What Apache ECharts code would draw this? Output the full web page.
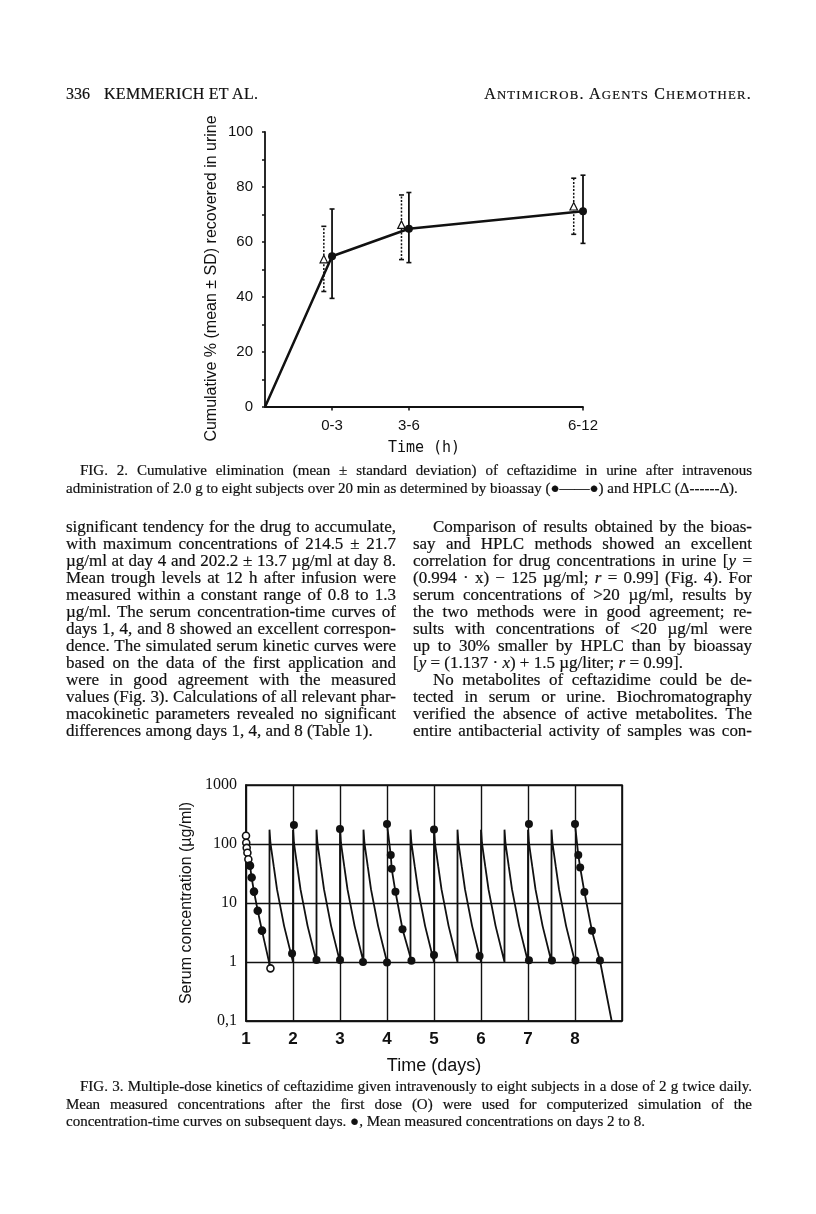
<!DOCTYPE html>
<html>
<head>
<meta charset="utf-8">
<script src="https://cdn.jsdelivr.net/npm/echarts@6/dist/echarts.min.js"></script>
<style>
html,body{margin:0;padding:0;background:#fff;}
#page{position:relative;width:816px;height:1214px;overflow:hidden;background:#fff;}
#chart{position:absolute;left:0;top:0;width:816px;height:1214px;}
.t{position:absolute;font-family:'Liberation Serif','Times New Roman',serif;color:#111;-webkit-text-stroke:0.2px #111;}
.col{font-size:17px;line-height:17px;}
.ln{height:17px;white-space:normal;}
.j{text-align:justify;text-align-last:justify;}
.l{text-align:left;}
.ind{padding-left:20px;}
.cap{font-size:15px;line-height:17.5px;}
.cap .ln{height:17.5px;}
.hdr{font-size:16px;white-space:nowrap;top:85px;}
.sc{font-size:12.8px;}
i{font-style:italic;}
</style>
</head>
<body>
<div id="page">
  <div id="chart"></div>

  <div class="t hdr" style="left:66px;">336</div>
  <div class="t hdr" style="left:104px;letter-spacing:0.3px;">KEMMERICH ET AL.</div>
  <div class="t hdr" style="right:64px;letter-spacing:1.2px;">A<span class="sc">NTIMICROB</span>. A<span class="sc">GENTS</span> C<span class="sc">HEMOTHER</span>.</div>

  <div class="t cap" style="left:66px;top:462px;width:686px;">
    <div class="ln j" style="padding-left:14px;">FIG. 2. Cumulative elimination (mean ± standard deviation) of ceftazidime in urine after intravenous</div>
    <div class="ln l">administration of 2.0 g to eight subjects over 20 min as determined by bioassay (●——●) and HPLC (Δ------Δ).</div>
  </div>

  <div class="t col" style="left:66px;top:518px;width:330px;">
    <div class="ln j">significant tendency for the drug to accumulate,</div>
    <div class="ln j">with maximum concentrations of 214.5 ± 21.7</div>
    <div class="ln j">µg/ml at day 4 and 202.2 ± 13.7 µg/ml at day 8.</div>
    <div class="ln j">Mean trough levels at 12 h after infusion were</div>
    <div class="ln j">measured within a constant range of 0.8 to 1.3</div>
    <div class="ln j">µg/ml. The serum concentration-time curves of</div>
    <div class="ln j">days 1, 4, and 8 showed an excellent correspon-</div>
    <div class="ln j">dence. The simulated serum kinetic curves were</div>
    <div class="ln j">based on the data of the first application and</div>
    <div class="ln j">were in good agreement with the measured</div>
    <div class="ln j">values (Fig. 3). Calculations of all relevant phar-</div>
    <div class="ln j">macokinetic parameters revealed no significant</div>
    <div class="ln l">differences among days 1, 4, and 8 (Table 1).</div>
  </div>

  <div class="t col" style="left:413px;top:518px;width:339px;">
    <div class="ln j ind">Comparison of results obtained by the bioas-</div>
    <div class="ln j">say and HPLC methods showed an excellent</div>
    <div class="ln j">correlation for drug concentrations in urine [<i>y</i> =</div>
    <div class="ln j">(0.994 · x) − 125 µg/ml; <i>r</i> = 0.99] (Fig. 4). For</div>
    <div class="ln j">serum concentrations of &gt;20 µg/ml, results by</div>
    <div class="ln j">the two methods were in good agreement; re-</div>
    <div class="ln j">sults with concentrations of &lt;20 µg/ml were</div>
    <div class="ln j">up to 30% smaller by HPLC than by bioassay</div>
    <div class="ln l">[<i>y</i> = (1.137 · <i>x</i>) + 1.5 µg/liter; <i>r</i> = 0.99].</div>
    <div class="ln j ind">No metabolites of ceftazidime could be de-</div>
    <div class="ln j">tected in serum or urine. Biochromatography</div>
    <div class="ln j">verified the absence of active metabolites. The</div>
    <div class="ln j">entire antibacterial activity of samples was con-</div>
  </div>

  <div class="t cap" style="left:66px;top:1078px;width:686px;">
    <div class="ln j" style="padding-left:14px;">FIG. 3. Multiple-dose kinetics of ceftazidime given intravenously to eight subjects in a dose of 2 g twice daily.</div>
    <div class="ln j">Mean measured concentrations after the first dose (O) were used for computerized simulation of the</div>
    <div class="ln l">concentration-time curves on subsequent days. ●, Mean measured concentrations on days 2 to 8.</div>
  </div>
</div>

<script>
// fit each printed line into its column (compress letter spacing only if it is too long)
document.querySelectorAll('.ln').forEach(el => {
  const span = document.createElement('span');
  while (el.firstChild) span.appendChild(el.firstChild);
  el.appendChild(span);
  span.style.whiteSpace = 'nowrap';
  const cs = getComputedStyle(el);
  const avail = el.clientWidth - parseFloat(cs.paddingLeft) - parseFloat(cs.paddingRight);
  const w = span.getBoundingClientRect().width;
  if (w > avail - 0.5) {
    const n = span.textContent.length;
    span.style.letterSpacing = ((avail - 1 - w) / n) + 'px';
  }
  span.style.whiteSpace = 'normal';
});
</script>

<script>
// ---------- FIG. 2 data: cumulative % recovered in urine ----------
const urinePeriods = ['0-3', '3-6', '6-12'];
const urinePeriodX = [2.53, 5.43, 12];          // where each period sits on the drawn time axis
const urineYTicks = [0, 20, 40, 60, 80, 100];
const bioMean = [54.8, 64.8, 71.2];
const bioLow  = [39.5, 52.5, 59.5];
const bioHigh = [72, 78, 84.3];
const hplcX    = [2.22, 5.15, 11.65];
const hplcMean = [53.8, 66.3, 73.0];
const hplcLow  = [42.0, 53.6, 62.8];
const hplcHigh = [65.7, 77.1, 83.2];

// ---------- FIG. 3 data: serum concentration (µg/ml) vs days ----------
const dayTicks = [1, 2, 3, 4, 5, 6, 7, 8];
const concTicks = [0.1, 1, 10, 100, 1000];
const day1Time = [1.0, 1.005, 1.015, 1.03, 1.05, 1.085, 1.12, 1.17, 1.25, 1.34, 1.52];
const day1Conc = [138, 105, 86, 71, 55, 43, 27, 15.6, 7.4, 3.4, 0.78];
const day4Time = [4.0, 4.08, 4.1, 4.18, 4.33, 4.52];
const day4Conc = [218, 65, 38, 15.5, 3.6, 1.05];
const day8Time = [8.0, 8.07, 8.11, 8.2, 8.36, 8.53, 8.78];
const day8Conc = [218, 65, 40, 15.3, 3.4, 1.06, 0.1];
const measTime = [1.98, 2.02, 2.5, 3.0, 3.0, 3.49, 4.0, 5.0, 5.0, 5.97, 7.02, 7.02, 7.51, 8.01];
const measConc = [1.4, 210, 1.08, 180, 1.08, 1.0, 0.98, 176, 1.32, 1.27, 218, 1.07, 1.06, 1.06];
// simulated dosing curve: dose times and one read-off dosing-interval shape
const simDoseTimes = [1.5, 2.0, 2.5, 3.0, 3.5, 4.5, 5.0, 5.5, 6.0, 6.5, 7.0, 7.5];
const simTrough0 = 0.8;
const simOffset = [0, 0.02, 0.09, 0.16, 0.31, 0.5];
const simConc   = [175, 104, 42, 17, 4.1, 1.0];

// ---------- build ----------
const sans = "'Liberation Sans',Arial,sans-serif";
const serif = "'Liberation Serif','Times New Roman',serif";
const INK = '#111';

const simData = [];
let lastEnd = null;
simDoseTimes.forEach(t0 => {
  if (lastEnd === null) simData.push([t0, simTrough0]);
  else if (Math.abs(lastEnd - t0) > 1e-6) { simData.push([t0, '-']); simData.push([t0, simConc[simConc.length - 1]]); }
  simOffset.forEach((o, k) => simData.push([+(t0 + o).toFixed(3), simConc[k]]));
  lastEnd = t0 + simOffset[simOffset.length - 1];
});

function zip(a, b) { return a.map((v, i) => [v, b[i]]); }

function errBars(xs, lows, highs, dashed) {
  return {
    type: 'custom', xAxisIndex: 0, yAxisIndex: 0, z: 2, silent: true,
    encode: { x: 0, y: [1, 2] },
    data: xs.map((x, i) => [x, lows[i], highs[i]]),
    renderItem: (params, api) => {
      const x = api.value(0), lo = api.value(1), hi = api.value(2);
      const p1 = api.coord([x, lo]), p2 = api.coord([x, hi]);
      const cap = 2.5;
      const st = { stroke: INK, lineWidth: dashed ? 1.5 : 1.8, lineDash: dashed ? [2, 1.6] : null, fill: null };
      const cs = { stroke: INK, lineWidth: 1.6, fill: null };
      return { type: 'group', children: [
        { type: 'line', shape: { x1: p1[0], y1: p1[1], x2: p2[0], y2: p2[1] }, style: st },
        { type: 'line', shape: { x1: p1[0] - cap, y1: p1[1], x2: p1[0] + cap, y2: p1[1] }, style: cs },
        { type: 'line', shape: { x1: p2[0] - cap, y1: p2[1], x2: p2[0] + cap, y2: p2[1] }, style: cs }
      ]};
    }
  };
}

function periodLabel(v) {
  for (let i = 0; i < urinePeriodX.length; i++) if (Math.abs(urinePeriodX[i] - v) < 0.01) return urinePeriods[i];
  return '';
}

const axLine = { show: true, lineStyle: { color: INK, width: 1.8 } };

const option = {
  backgroundColor: 'transparent',
  animation: false,
  grid: [
    { left: 265, top: 132, width: 318, height: 275, show: false },
    { left: 246, top: 785, width: 376, height: 236, show: true, borderColor: INK, borderWidth: 1.6, backgroundColor: 'transparent' }
  ],
  xAxis: [
    { gridIndex: 0, type: 'value', min: 0, max: 12,
      axisLine: axLine,
      axisTick: { show: true, customValues: urinePeriodX, length: 3.5, lineStyle: { color: INK, width: 1.5 } },
      axisLabel: { customValues: urinePeriodX, formatter: periodLabel, fontFamily: sans, fontSize: 15, color: INK, margin: 11 },
      splitLine: { show: false },
      name: 'Time (h)', nameLocation: 'middle', nameGap: 34,
      nameTextStyle: { fontFamily: "'DejaVu Sans Mono',monospace", fontSize: 15, color: INK } },
    { gridIndex: 0, type: 'value', min: 0, max: 12,
      axisLine: { show: false },
      axisTick: { show: true, inside: true, customValues: urinePeriodX, length: 3.5, lineStyle: { color: INK, width: 1.5 } },
      axisLabel: { show: false }, splitLine: { show: false } },
    { gridIndex: 1, type: 'value', min: 1, max: 9, interval: 1,
      axisLine: { show: true, lineStyle: { color: INK, width: 1.6 } },
      axisTick: { show: false },
      axisLabel: { formatter: v => (dayTicks.indexOf(v) >= 0 ? String(v) : ''), fontFamily: sans, fontSize: 17, fontWeight: 'bold', color: INK, margin: 10 },
      splitLine: { show: true, lineStyle: { color: INK, width: 1.4 } },
      name: 'Time (days)', nameLocation: 'middle', nameGap: 36,
      nameTextStyle: { fontFamily: sans, fontSize: 18, color: INK } }
  ],
  yAxis: [
    { gridIndex: 0, type: 'value', min: 0, max: 100, interval: 10,
      axisLine: axLine,
      axisTick: { show: true, length: 3, lineStyle: { color: INK, width: 1.5 } },
      axisLabel: { customValues: urineYTicks, formatter: v => String(v), fontFamily: sans, fontSize: 15, color: INK, margin: 12 },
      splitLine: { show: false },
      name: 'Cumulative % (mean ± SD) recovered in urine', nameLocation: 'middle', nameGap: 45, nameRotate: 90,
      nameTextStyle: { fontFamily: sans, fontSize: 16, color: INK, padding: [0, 18, 0, 0] } },
    { gridIndex: 0, type: 'value', min: 0, max: 100, interval: 10,
      axisLine: { show: false },
      axisTick: { show: true, inside: true, length: 3, lineStyle: { color: INK, width: 1.5 } },
      axisLabel: { show: false }, splitLine: { show: false } },
    { gridIndex: 1, type: 'log', logBase: 10, min: 0.1, max: 1000,
      axisLine: { show: true, lineStyle: { color: INK, width: 1.6 } },
      axisTick: { show: false },
      axisLabel: { formatter: v => { const t = concTicks.find(c => Math.abs(c - v) / c < 1e-6); return t === undefined ? '' : (t < 1 ? String(t).replace('.', ',') : String(t)); },
        fontFamily: serif, fontSize: 16, color: INK, margin: 9 },
      splitLine: { show: true, lineStyle: { color: INK, width: 1.4 } },
      name: 'Serum concentration (µg/ml)', nameLocation: 'middle', nameGap: 51, nameRotate: 90,
      nameTextStyle: { fontFamily: sans, fontSize: 16, color: INK } }
  ],
  series: [
    errBars(hplcX, hplcLow, hplcHigh, true),
    errBars(urinePeriodX, bioLow, bioHigh, false),
    { name: 'Bioassay', type: 'line', xAxisIndex: 0, yAxisIndex: 0, z: 4,
      data: [{ value: [0, 0], symbol: 'none' }].concat(zip(urinePeriodX, bioMean)),
      symbol: 'circle', symbolSize: 8, itemStyle: { color: INK, opacity: 1 },
      lineStyle: { color: INK, width: 2.5 } },
    { name: 'HPLC', type: 'scatter', xAxisIndex: 0, yAxisIndex: 0, z: 5,
      data: zip(hplcX, hplcMean), symbol: 'triangle', symbolSize: 7.5,
      itemStyle: { color: '#fff', borderColor: INK, borderWidth: 1.2, opacity: 1 } },

    { name: 'Simulated', type: 'line', xAxisIndex: 2, yAxisIndex: 2, z: 3,
      data: simData, showSymbol: false, symbol: 'none', connectNulls: false,
      lineStyle: { color: INK, width: 1.8 } },
    { name: 'Day 1 (first dose)', type: 'line', xAxisIndex: 2, yAxisIndex: 2, z: 4,
      data: zip(day1Time, day1Conc), symbol: 'circle', symbolSize: 7,
      itemStyle: { color: p => (p.dataIndex >= 5 && p.dataIndex <= 9 ? INK : '#fff'), borderColor: INK, borderWidth: 1.6, opacity: 1 },
      lineStyle: { color: INK, width: 1.8 } },
    { name: 'Day 4', type: 'line', xAxisIndex: 2, yAxisIndex: 2, z: 4,
      data: zip(day4Time, day4Conc), symbol: 'circle', symbolSize: 8,
      itemStyle: { color: INK, opacity: 1 }, lineStyle: { color: INK, width: 1.8 } },
    { name: 'Day 8', type: 'line', xAxisIndex: 2, yAxisIndex: 2, z: 4,
      data: zip(day8Time, day8Conc).map((p, i, a) => i === a.length - 1 ? { value: p, symbol: 'none' } : p),
      symbol: 'circle', symbolSize: 8,
      itemStyle: { color: INK, opacity: 1 }, lineStyle: { color: INK, width: 1.8 } },
    { name: 'Measured days 2-8', type: 'scatter', xAxisIndex: 2, yAxisIndex: 2, z: 5,
      data: zip(measTime, measConc), symbol: 'circle', symbolSize: 8,
      itemStyle: { color: INK, opacity: 1 } }
  ]
};

const chart = echarts.init(document.getElementById('chart'), null, { renderer: 'canvas' });
chart.setOption(option);
</script>
</body>
</html>
